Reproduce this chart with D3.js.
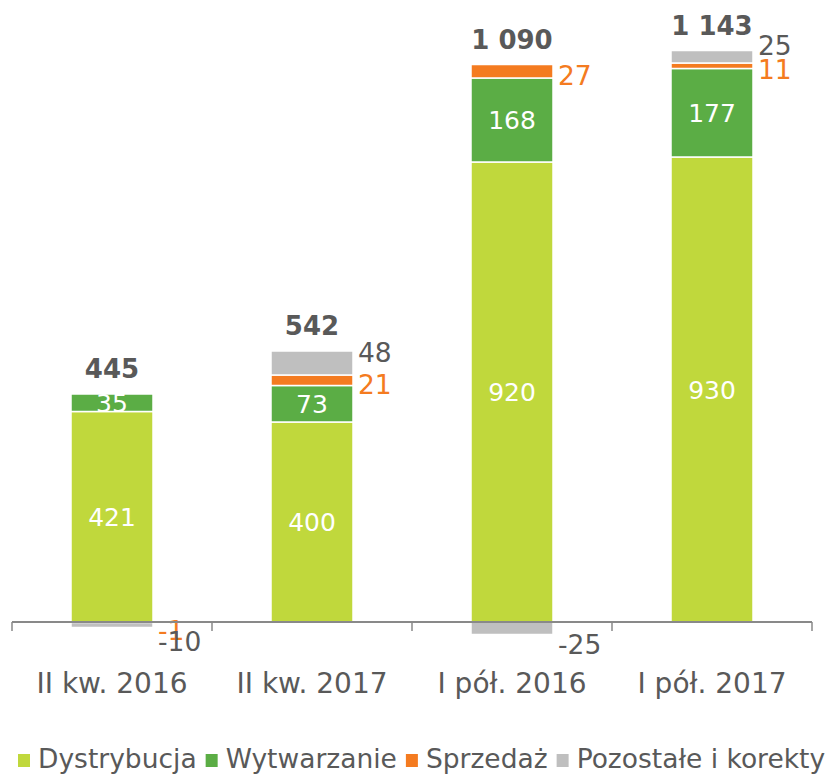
<!DOCTYPE html>
<html><head><meta charset="utf-8">
<script src="https://cdn.jsdelivr.net/npm/d3@7/dist/d3.min.js"></script>
<style>html,body{margin:0;padding:0;background:#fff}svg{display:block}</style>
</head><body>
<script>
const categories = ["II kw. 2016", "II kw. 2017", "I pół. 2016", "I pół. 2017"];
const seriesNames = ["Dystrybucja", "Wytwarzanie", "Sprzedaż", "Pozostałe i korekty"];
const dystrybucja = [421, 400, 920, 930];
const wytwarzanie = [35, 73, 168, 177];
const sprzedaz = [-1, 21, 27, 11];
const pozostale = [-10, 48, -25, 25];
const totals = [445, 542, 1090, 1143];
const colors = ["#C0D83C", "#5BAD45", "#F47B20", "#BFBFBF"];

const W = 836, H = 774;
const FONT = "DejaVu Sans, Verdana, sans-serif";
const TXT = "#595959";

const table = categories.map((c, i) => ({
  cat: c,
  [seriesNames[0]]: dystrybucja[i],
  [seriesNames[1]]: wytwarzanie[i],
  [seriesNames[2]]: sprzedaz[i],
  [seriesNames[3]]: pozostale[i]
}));

const svg = d3.select("body").append("svg").attr("width", W).attr("height", H)
  .style("font-family", FONT);

const x = d3.scaleBand().domain(categories).range([12, 812]).paddingInner(0.59).paddingOuter(0.295);
const y = d3.scaleLinear().domain([-40, 1180]).range([642, 32]);

const stack = d3.stack().keys(seriesNames).offset(d3.stackOffsetDiverging);
const series = stack(table);

const g = svg.append("g");
series.forEach((s, si) => {
  g.selectAll(null).data(s).enter().append("rect")
    .attr("x", d => x(d.data.cat))
    .attr("width", x.bandwidth())
    .attr("y", d => y(Math.max(d[0], d[1])))
    .attr("height", d => Math.abs(y(d[0]) - y(d[1])))
    .attr("fill", colors[si])
    .attr("stroke", "#fff").attr("stroke-width", 1.5);
});

// axis
const axisY = y(0);
svg.append("line").attr("x1", 12).attr("x2", 812).attr("y1", axisY).attr("y2", axisY)
  .attr("stroke", "#898989").attr("stroke-width", 2);
const step = x.step();
const tickXs = d3.range(categories.length + 1).map(i => 12 + i * step);
svg.selectAll(null).data(tickXs).enter().append("line")
  .attr("x1", d => d).attr("x2", d => d).attr("y1", axisY).attr("y2", axisY + 9)
  .attr("stroke", "#898989").attr("stroke-width", 1.5);
svg.selectAll(null).data(categories).enter().append("text")
  .attr("x", d => x(d) + x.bandwidth() / 2).attr("y", 693)
  .attr("text-anchor", "middle").attr("font-size", 28).attr("fill", TXT)
  .text(d => d);

const fmt = v => d3.format(",")(v).replace(/,/g, " ").replace(/\u2212/g, "-");

// inside labels (Dystrybucja, Wytwarzanie)
[0, 1].forEach(si => {
  g.selectAll(null).data(series[si]).enter().append("text")
    .attr("x", d => x(d.data.cat) + x.bandwidth() / 2)
    .attr("y", d => (y(d[0]) + y(d[1])) / 2)
    .attr("dy", "0.36em")
    .attr("text-anchor", "middle").attr("font-size", 25).attr("fill", "#fff")
    .text(d => fmt(d[1] - d[0]));
});

// outside labels (Sprzedaż, Pozostałe)
const sideOffsets = {
  2: { pos: 4, neg: 8 },
  3: { pos: -11, neg: 16 }
};
[2, 3].forEach(si => {
  g.selectAll(null).data(series[si]).enter().append("text")
    .attr("x", d => x(d.data.cat) + x.bandwidth() + 5)
    .attr("y", d => {
      const v = d.data[seriesNames[si]];
      const mid = (y(d[0]) + y(d[1])) / 2;
      return mid + (v >= 0 ? sideOffsets[si].pos : sideOffsets[si].neg);
    })
    .attr("dy", "0.36em")
    .attr("font-size", 26.5).attr("fill", si === 2 ? colors[2] : TXT)
    .text(d => fmt(d.data[seriesNames[si]]));
});

// totals
const posTop = categories.map((c, i) => d3.max(series, s => s[i][1]));
svg.selectAll(null).data(totals).enter().append("text")
  .attr("x", (d, i) => x(categories[i]) + x.bandwidth() / 2)
  .attr("y", (d, i) => y(posTop[i]) - 16)
  .attr("text-anchor", "middle").attr("font-size", 26).attr("font-weight", "bold")
  .attr("fill", TXT)
  .text(d => fmt(d));

// legend
const leg = svg.append("g").attr("transform", "translate(18,768)");
let lx = 0;
seriesNames.forEach((n, i) => {
  leg.append("rect").attr("x", lx).attr("y", -14).attr("width", 12).attr("height", 13).attr("fill", colors[i]);
  const t = leg.append("text").attr("x", lx + 20).attr("y", 0).attr("font-size", 26.5).attr("fill", TXT).text(n);
  lx += 20 + t.node().getComputedTextLength() + 9;
});
</script>
</body></html>
